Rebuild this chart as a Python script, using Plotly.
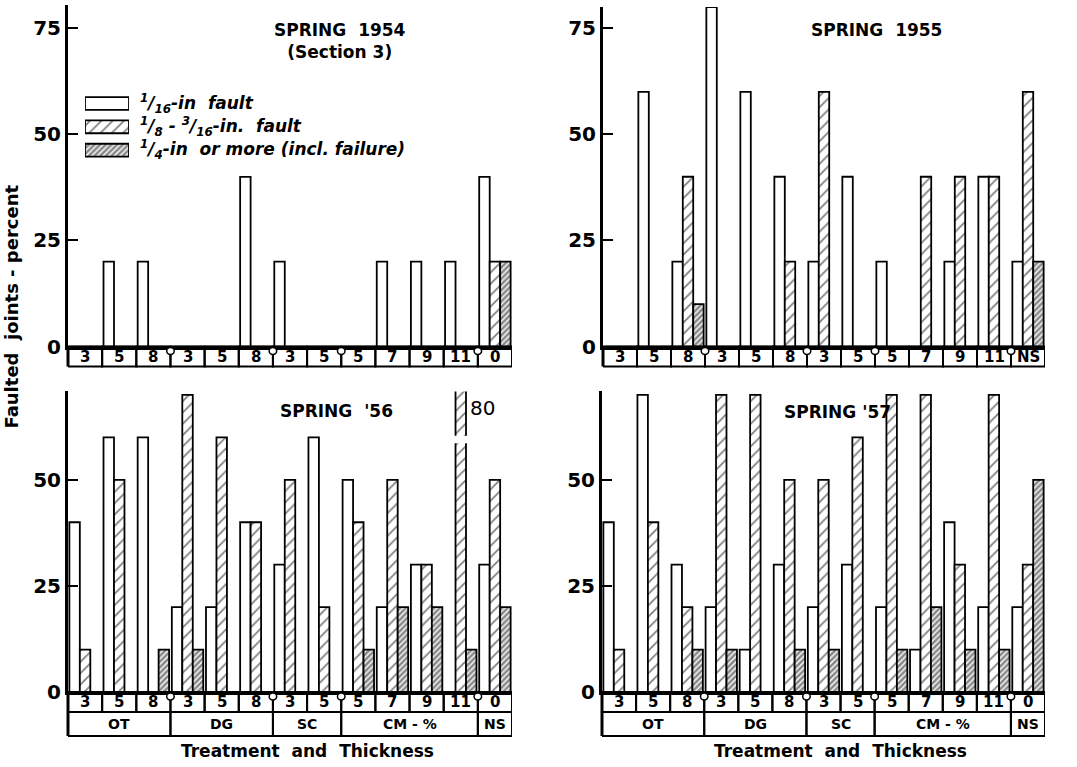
import plotly.graph_objects as go

# Category cells: thickness within each treatment group
thickness = ["3", "5", "8", "3", "5", "8", "3", "5", "5", "7", "9", "11", "0"]
thickness_1955 = ["3", "5", "8", "3", "5", "8", "3", "5", "5", "7", "9", "11", "NS"]
groups = ["OT", "DG", "SC", "CM - %", "NS"]
group_first = [0, 3, 6, 8, 12]
group_last = [2, 5, 7, 11, 12]

series_names = [
    "<sup>1</sup>/<sub>16</sub>-in  fault",
    "<sup>1</sup>/<sub>8</sub> - <sup>3</sup>/<sub>16</sub>-in.  fault",
    "<sup>1</sup>/<sub>4</sub>-in  or more (incl. failure)",
]

# Faulted joints, percent
fine_1954 = [0, 20, 20, 0, 0, 40, 20, 0, 0, 20, 20, 20, 40]
mid_1954 = [0, 0, 0, 0, 0, 0, 0, 0, 0, 0, 0, 0, 20]
big_1954 = [0, 0, 0, 0, 0, 0, 0, 0, 0, 0, 0, 0, 20]

fine_1955 = [0, 60, 20, 80, 60, 40, 20, 40, 20, 0, 20, 40, 20]
mid_1955 = [0, 0, 40, 0, 0, 20, 60, 0, 0, 40, 40, 40, 60]
big_1955 = [0, 0, 10, 0, 0, 0, 0, 0, 0, 0, 0, 0, 20]

fine_1956 = [40, 60, 60, 20, 20, 40, 30, 60, 50, 20, 30, 0, 30]
mid_1956 = [10, 50, 0, 70, 60, 40, 50, 20, 40, 50, 30, 80, 50]
big_1956 = [0, 0, 10, 10, 0, 0, 0, 0, 10, 20, 20, 10, 20]

fine_1957 = [40, 70, 30, 20, 10, 30, 20, 30, 20, 10, 40, 20, 20]
mid_1957 = [10, 40, 20, 70, 70, 50, 50, 60, 70, 70, 30, 70, 30]
big_1957 = [0, 0, 10, 10, 0, 10, 10, 0, 10, 20, 10, 10, 50]

panel_titles = ["SPRING  1954<br>(Section 3)", "SPRING  1955", "SPRING  '56", "SPRING '57"]

W, H = 1077, 767
PAPER_H = 756          # drawn height of the paper area in the page
FONT = "DejaVu Sans"
BAR_GAP = 0.08


def px_x(v):
    return v / W


def px_y(v):
    return 1 - v / PAPER_H


panels = [
    dict(fine=fine_1954, mid=mid_1954, big=big_1954, labels=thickness,
         x=(68, 512), y=(5, 347), top=80.5, yticks=[0, 25, 50, 75], grouprow=False,
         title_xy=(340, 41)),
    dict(fine=fine_1955, mid=mid_1955, big=big_1955, labels=thickness_1955,
         x=(603, 1045), y=(7, 347), top=80.0, yticks=[0, 25, 50, 75], grouprow=False,
         title_xy=(876, 30)),
    dict(fine=fine_1956, mid=mid_1956, big=big_1956, labels=thickness,
         x=(68, 512), y=(392, 693), top=70.8, yticks=[0, 25, 50], grouprow=True,
         title_xy=(336, 412)),
    dict(fine=fine_1957, mid=mid_1957, big=big_1957, labels=thickness,
         x=(602, 1045), y=(392, 693), top=70.8, yticks=[0, 25, 50], grouprow=True,
         title_xy=(837, 413)),
]

styles = [
    dict(color="white", line=dict(color="black", width=1.8)),
    dict(color="white", line=dict(color="black", width=1.8),
         pattern=dict(shape="/", fgcolor="black", bgcolor="white", size=8, solidity=0.22)),
    dict(color="white", line=dict(color="black", width=1.8),
         pattern=dict(shape="/", fgcolor="#111111", bgcolor="white", size=4, solidity=0.65)),
]

fig = go.Figure()
shapes, annotations = [], []
layout = {}
xs = list(range(len(thickness)))

for k, p in enumerate(panels):
    sfx = "" if k == 0 else str(k + 1)
    xa, ya = "x" + sfx, "y" + sfx
    for j, key in enumerate(["fine", "mid", "big"]):
        fig.add_trace(go.Bar(
            x=xs, y=p[key], name=series_names[j], marker=styles[j],
            xaxis=xa, yaxis=ya, showlegend=False,
        ))
    x0, x1 = p["x"]
    yt, yb = p["y"]
    layout["xaxis" + sfx] = dict(
        domain=[px_x(x0), px_x(x1)], range=[-0.5, 12.5], anchor=ya,
        showticklabels=False, ticks="", showgrid=False, zeroline=False,
        showline=True, linecolor="black", linewidth=3,
    )
    layout["yaxis" + sfx] = dict(
        domain=[px_y(yb), px_y(yt)], range=[0, p["top"]], anchor=xa,
        tickvals=p["yticks"], ticks="inside", ticklen=10, tickwidth=2, tickcolor="black",
        showgrid=False, zeroline=False, showline=True, linecolor="black", linewidth=3,
        tickfont=dict(family=FONT, size=20, color="black", weight="bold"),
    )
    plot_h = yb - yt
    row1 = 20 / plot_h
    row2 = 44 / plot_h
    bottom = row2 if p["grouprow"] else row1
    # left axis extended down through the label boxes
    shapes.append(dict(type="line", xref=xa + " domain", yref=ya + " domain",
                       x0=0, x1=0, y0=0, y1=-bottom, line=dict(color="black", width=3)))
    for i, lab in enumerate(p["labels"]):
        shapes.append(dict(type="rect", xref=xa, yref=ya + " domain",
                           x0=i - 0.5, x1=i + 0.5, y0=-row1, y1=0,
                           line=dict(color="black", width=2), fillcolor="rgba(0,0,0,0)"))
        annotations.append(dict(x=i, y=-row1 / 2, xref=xa, yref=ya + " domain",
                                text=lab, showarrow=False, xanchor="center", yanchor="middle",
                                font=dict(family=FONT, size=15, color="black", weight="bold")))
    # small hanger marks where treatment groups meet
    for b in group_last[:-1]:
        shapes.append(dict(type="circle", xref=xa, yref=ya + " domain",
                           x0=b + 0.5 - 0.11, x1=b + 0.5 + 0.11, y0=-8 / plot_h, y1=-1 / plot_h,
                           line=dict(color="black", width=1.5), fillcolor="white"))
    if p["grouprow"]:
        for g, a, b in zip(groups, group_first, group_last):
            shapes.append(dict(type="rect", xref=xa, yref=ya + " domain",
                               x0=a - 0.5, x1=b + 0.5, y0=-row2, y1=-row1,
                               line=dict(color="black", width=2), fillcolor="rgba(0,0,0,0)"))
            annotations.append(dict(x=(a + b) / 2, y=-(row1 + row2) / 2, xref=xa,
                                    yref=ya + " domain", text=g, showarrow=False,
                                    xanchor="center", yanchor="middle",
                                    font=dict(family=FONT, size=14, color="black", weight="bold")))
        annotations.append(dict(x=px_x((x0 + x1) / 2 + 17), y=px_y(752), xref="paper",
                                yref="paper", text="Treatment  and  Thickness", showarrow=False,
                                xanchor="center", yanchor="middle",
                                font=dict(family=FONT, size=17, color="black", weight="bold")))
    tx, ty = p["title_xy"]
    annotations.append(dict(x=px_x(tx), y=px_y(ty), xref="paper", yref="paper",
                            text=panel_titles[k], showarrow=False,
                            xanchor="center", yanchor="middle",
                            font=dict(family=FONT, size=17, color="black", weight="bold")))

# Broken bar for the 80 percent value in spring '56
bar_w = (1 - BAR_GAP) / 3
shapes.append(dict(type="rect", xref="x3", yref="y3",
                   x0=11 - bar_w / 2 - 0.08, x1=11 + bar_w / 2 + 0.08, y0=58.6, y1=60.4,
                   line=dict(width=0), fillcolor="white"))
annotations.append(dict(x=11 + bar_w / 2 + 0.05, y=67, xref="x3", yref="y3", text="80",
                        showarrow=False, xanchor="left", yanchor="middle",
                        font=dict(family=FONT, size=20, color="black")))

# Legend keys: a small key axis holding one swatch bar per series
key_len = [1, 1, 1]
key_rows = [0, 1, 2]
key_text_y = [104, 127, 150]
for j in range(3):
    fig.add_trace(go.Bar(
        x=[key_len[j]], y=[key_rows[j]], orientation="h", marker=styles[j],
        xaxis="x5", yaxis="y5", showlegend=False, width=0.55,
    ))
    annotations.append(dict(x=px_x(138), y=px_y(key_text_y[j]), xref="paper", yref="paper",
                            text=series_names[j], showarrow=False,
                            xanchor="left", yanchor="middle",
                            font=dict(family=FONT, size=17, color="black",
                                      style="italic", weight="bold")))
layout["xaxis5"] = dict(domain=[px_x(85), px_x(129)], range=[0, 1.0], visible=False,
                        anchor="y5", fixedrange=True)
layout["yaxis5"] = dict(domain=[px_y(162), px_y(92)], range=[2.5, -0.5], visible=False,
                        anchor="x5", fixedrange=True)

annotations.append(dict(x=px_x(12), y=px_y(307), xref="paper", yref="paper",
                        text="Faulted  joints - percent", textangle=-90, showarrow=False,
                        xanchor="center", yanchor="middle",
                        font=dict(family=FONT, size=18, color="black", weight="bold")))

fig.update_layout(
    **layout,
    width=W, height=H, autosize=False,
    margin=dict(l=0, r=0, t=0, b=0, pad=0),
    paper_bgcolor="white", plot_bgcolor="white",
    barmode="group", bargap=BAR_GAP, bargroupgap=0,
    shapes=shapes, annotations=annotations, showlegend=False,
)

fig.write_html("out.html")
